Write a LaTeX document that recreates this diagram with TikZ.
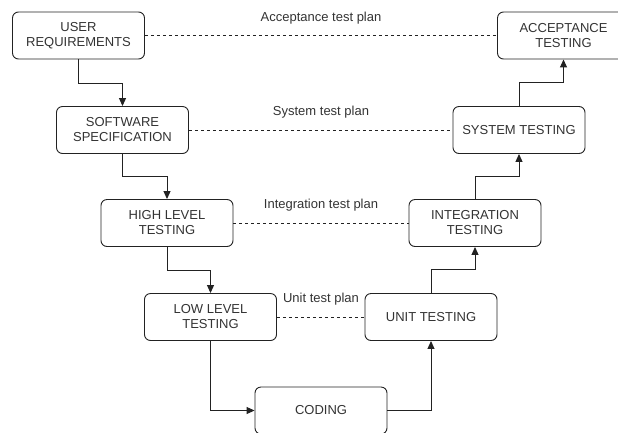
\documentclass[tikz,border=0pt]{standalone}
\usepackage{fontspec}
\setmainfont{Liberation Sans}
\usetikzlibrary{arrows.meta}
\definecolor{ink}{HTML}{222222}
\definecolor{txt}{HTML}{333333}
\begin{document}
\begin{tikzpicture}[x=1pt,y=-1pt,
  stage/.style={draw=ink, line width=0.9pt, rounded corners=6pt, fill=white,
    minimum width=132pt, minimum height=47pt, align=center, text=txt,
    font=\fontsize{13}{15}\selectfont, inner sep=0pt},
  flow/.style={draw=ink, line width=1pt, -{Triangle[length=8pt,width=7pt]}},
  plan/.style={draw=ink, line width=0.8pt, dash pattern=on 3pt off 3pt},
  planlabel/.style={text=txt, font=\fontsize{13}{15}\selectfont, inner sep=0pt}]
\useasboundingbox (0,0) rectangle (618,432);
\clip (0,0) rectangle (618,432);

% left arm of the V
\node[stage] (user)   at (78.5,35.5) {USER\\REQUIREMENTS};
\node[stage] (spec)   at (122.5,130) {SOFTWARE\\SPECIFICATION};
\node[stage] (high)   at (167,223)   {HIGH LEVEL\\TESTING};
\node[stage] (low)    at (210.5,317) {LOW LEVEL\\TESTING};
% bottom
\node[stage] (coding) at (321,410.5) {CODING};
% right arm of the V
\node[stage] (unit)   at (431,317)   {UNIT TESTING};
\node[stage] (integ)  at (475,223)   {INTEGRATION\\TESTING};
\node[stage] (sys)    at (519,130)   {SYSTEM TESTING};
\node[stage] (acc)    at (563.5,35.5) {ACCEPTANCE\\TESTING};

% descending flow
\draw[flow] (user.south) -- ++(0,24) -| (spec.north);
\draw[flow] (spec.south) -- ++(0,23) -| (high.north);
\draw[flow] (high.south) -- ++(0,23.5) -| (low.north);
\draw[flow] (low.south) |- (coding.west);
% ascending flow
\draw[flow] (coding.east) -| (unit.south);
\draw[flow] (unit.north) -- ++(0,-23.5) -| (integ.south);
\draw[flow] (integ.north) -- ++(0,-23) -| (sys.south);
\draw[flow] (sys.north) -- ++(0,-24) -| (acc.south);

% test plans linking each level
\draw[plan] (user.east) -- (acc.west);
\draw[plan] (spec.east) -- (sys.west);
\draw[plan] (high.east) -- (integ.west);
\draw[plan] (low.east) -- (unit.west);

\node[planlabel] (pacc)  at (321,18)  {Acceptance test plan};
\node[planlabel] (psys)  at (321,112) {System test plan};
\node[planlabel] (pint)  at (321,205) {Integration test plan};
\node[planlabel] (punit) at (321,299) {Unit test plan};
\end{tikzpicture}
\end{document}
